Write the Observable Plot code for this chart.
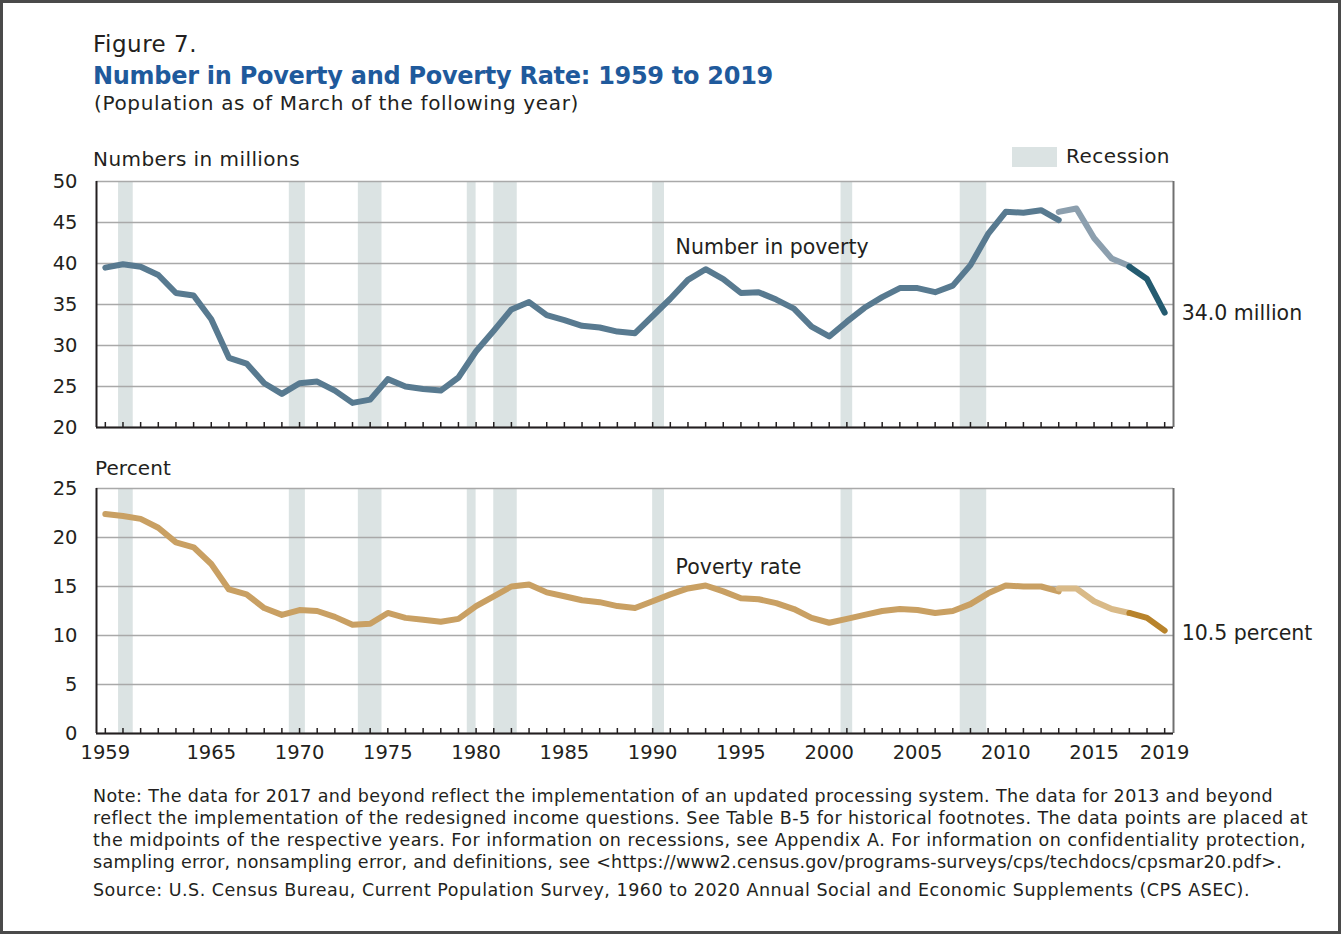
<!DOCTYPE html>
<html><head><meta charset="utf-8">
<script src="https://cdn.jsdelivr.net/npm/d3@7"></script>
<script src="https://cdn.jsdelivr.net/npm/@observablehq/plot@0.6"></script>
<style>
body{margin:0;background:#fff;}
#page{position:relative;width:1341px;height:934px;box-sizing:border-box;border:3px solid #4a4a4a;overflow:hidden;font-family:"DejaVu Sans",sans-serif;color:#231f20;background:#fff;}
.t{position:absolute;white-space:nowrap;line-height:1;margin:0;}
.chart{position:absolute;left:-3px;width:1341px;}
.chart svg{max-width:none !important;}
</style></head><body>
<div id="page">
  <div class="t fit" data-w="104" style="left:90px;top:29.5px;font-size:23px;">Figure 7.</div>
  <div class="t fit" data-w="680" style="left:90px;top:61px;font-size:24px;font-weight:700;color:#1f5a9c;">Number in Poverty and Poverty Rate: 1959 to 2019</div>
  <div class="t fit" data-w="485" style="left:91px;top:90px;font-size:20px;">(Population as of March of the following year)</div>
  <div class="t fit" data-w="207" style="left:90px;top:146px;font-size:20px;">Numbers in millions</div>
  <div style="position:absolute;left:1009px;top:144px;width:45px;height:20px;background:#dbe3e3;"></div>
  <div class="t fit" data-w="104" style="left:1063px;top:143px;font-size:20px;">Recession</div>
  <div class="t fit" data-w="76" style="left:92px;top:455px;font-size:20px;">Percent</div>
  <div id="topChart" class="chart" style="top:154px;"></div>
  <div id="botChart" class="chart" style="top:464px;"></div>
  <div id="notes"></div>
</div>
<script>
// ---- data ----
const years = [1959,1960,1961,1962,1963,1964,1965,1966,1967,1968,1969,1970,1971,1972,1973,1974,1975,1976,1977,1978,1979,1980,1981,1982,1983,1984,1985,1986,1987,1988,1989,1990,1991,1992,1993,1994,1995,1996,1997,1998,1999,2000,2001,2002,2003,2004,2005,2006,2007,2008,2009,2010,2011,2012,2013];
const numberInPoverty = [39.5,39.9,39.6,38.6,36.4,36.1,33.2,28.5,27.8,25.4,24.1,25.4,25.6,24.5,23.0,23.4,25.9,25.0,24.7,24.5,26.1,29.3,31.8,34.4,35.3,33.7,33.1,32.4,32.2,31.7,31.5,33.6,35.7,38.0,39.3,38.1,36.4,36.5,35.6,34.5,32.3,31.1,32.9,34.6,35.9,37.0,37.0,36.5,37.3,39.8,43.6,46.3,46.2,46.5,45.3];
const povertyRate = [22.4,22.2,21.9,21.0,19.5,19.0,17.3,14.7,14.2,12.8,12.1,12.6,12.5,11.9,11.1,11.2,12.3,11.8,11.6,11.4,11.7,13.0,14.0,15.0,15.2,14.4,14.0,13.6,13.4,13.0,12.8,13.5,14.2,14.8,15.1,14.5,13.8,13.7,13.3,12.7,11.8,11.3,11.7,12.1,12.5,12.7,12.6,12.3,12.5,13.2,14.3,15.1,15.0,15.0,14.5];
const yearsRedesign = [2013,2014,2015,2016,2017];
const numberRedesign = [46.3,46.7,43.1,40.6,39.7];
const rateRedesign = [14.8,14.8,13.5,12.7,12.3];
const yearsUpdated = [2017,2018,2019];
const numberUpdated = [39.6,38.1,34.0];
const rateUpdated = [12.3,11.8,10.5];
const recessionStart = [1960.25,1969.92,1973.83,1980.0,1981.5,1990.5,2001.17,2007.92];
const recessionEnd   = [1961.08,1970.83,1975.17,1980.5,1982.83,1991.17,2001.83,2009.42];
const xTickLabels = [1959,1965,1970,1975,1980,1985,1990,1995,2000,2005,2010,2015,2019];
const yTicksNumber = [20,25,30,35,40,45,50];
const yTicksRate = [0,5,10,15,20,25];
const noteLines = [
  "Note: The data for 2017 and beyond reflect the implementation of an updated processing system. The data for 2013 and beyond",
  "reflect the implementation of the redesigned income questions. See Table B-5 for historical footnotes. The data points are placed at",
  "the midpoints of the respective years. For information on recessions, see Appendix A. For information on confidentiality protection,",
  "sampling error, nonsampling error, and definitions, see <https://www2.census.gov/programs-surveys/cps/techdocs/cpsmar20.pdf>."
];
const noteWidths = [1180, 1215, 1213, 1189];
const sourceLine = "Source: U.S. Census Bureau, Current Population Survey, 1960 to 2020 Annual Social and Economic Supplements (CPS ASEC).";
const seriesLabelNumber = [{year: 1991.8, value: 42.0, text: "Number in poverty"}];
const seriesLabelRate = [{year: 1991.8, value: 16.9, text: "Poverty rate"}];

// ---- derived tables ----
const mid = y => y + 0.5;
const tbl = (xs, vs) => xs.map((x, i) => ({x: mid(x), v: vs[i]}));
const numSeg1 = tbl(years, numberInPoverty);
const numSeg2 = tbl(yearsRedesign, numberRedesign);
const numSeg3 = tbl(yearsUpdated, numberUpdated);
const rateSeg1 = tbl(years, povertyRate);
const rateSeg2 = tbl(yearsRedesign, rateRedesign);
const rateSeg3 = tbl(yearsUpdated, rateUpdated);
const recessions = recessionStart.map((s, i) => ({start: s, end: recessionEnd[i]}));
const allYears = years.concat(yearsRedesign.slice(1), yearsUpdated.slice(1));
const tickPos = allYears.map(mid);

const ink = "#231f20";
const font = "DejaVu Sans";

function panel({yTicks, domain, segs, colors, label, endLabel, endDy, height, marginTop, marginBottom, xLabels}) {
  const last = segs[2][segs[2].length - 1];
  const lineOpts = c => ({x: "x", y: "v", stroke: c, strokeWidth: 6, strokeLinejoin: "round", strokeLinecap: "round"});
  const marks = [
    Plot.rect(recessions, {x1: "start", x2: "end", fill: "#dbe3e3"}),
    Plot.gridY(yTicks, {stroke: "#a9a9a9", strokeOpacity: 1, strokeWidth: 1.6}),
    Plot.ruleX([2020], {stroke: "#707070", strokeWidth: 2}),
    Plot.axisY(yTicks, {tickSize: 0, tickPadding: 19, fontSize: 19.5, label: null}),
    Plot.line(segs[0], lineOpts(colors[0])),
    Plot.line(segs[1], lineOpts(colors[1])),
    Plot.line(segs[2], lineOpts(colors[2])),
    Plot.ruleX([1959], {stroke: ink, strokeWidth: 2}),
    Plot.ruleY([domain[0]], {stroke: ink, strokeWidth: 2}),
    Plot.axisX(tickPos, {tickSize: 5, dy: -5, tickFormat: () => "", stroke: ink, strokeWidth: 1.5, label: null}),
    Plot.text(label, {x: "year", y: "value", text: "text", textAnchor: "start", fontSize: 20.5, fill: ink}),
    Plot.text([last], {x: "x", y: "v", text: () => endLabel, textAnchor: "start", dx: 17, dy: endDy, fontSize: 20.5, fill: ink})
  ];
  if (xLabels) marks.push(Plot.axisX(xTickLabels.map(mid), {tickSize: 0, tickPadding: 12, fontSize: 19.5, tickFormat: d => String(Math.floor(d)), label: null}));
  return Plot.plot({
    width: 1341, height, marginLeft: 96, marginRight: 168, marginTop, marginBottom,
    x: {domain: [1959, 2020]},
    y: {domain},
    style: {fontFamily: font, fontSize: "19px", color: ink, background: "transparent", overflow: "visible", maxWidth: "none"},
    marks
  });
}

document.getElementById("topChart").append(panel({
  yTicks: yTicksNumber, domain: [20, 50], segs: [numSeg1, numSeg2, numSeg3],
  colors: ["#587a90", "#8c9fae", "#245b70"], label: seriesLabelNumber, endLabel: "34.0 million", endDy: 1,
  height: 280, marginTop: 24, marginBottom: 10, xLabels: false
}));
document.getElementById("botChart").append(panel({
  yTicks: yTicksRate, domain: [0, 25], segs: [rateSeg1, rateSeg2, rateSeg3],
  colors: ["#c9a063", "#d9ba88", "#b8832b"], label: seriesLabelRate, endLabel: "10.5 percent", endDy: 3,
  height: 300, marginTop: 21, marginBottom: 34, xLabels: true
}));

const notes = document.getElementById("notes");
noteLines.forEach((t, i) => {
  const d = document.createElement("div");
  d.className = "t fit"; d.dataset.w = noteWidths[i];
  d.style.left = "90px"; d.style.top = (785 + 22 * i) + "px"; d.style.fontSize = "17.5px";
  d.textContent = t; notes.append(d);
});
const s = document.createElement("div");
s.className = "t fit"; s.dataset.w = 1157;
s.style.left = "90px"; s.style.top = "879px"; s.style.fontSize = "17.5px";
s.textContent = sourceLine; notes.append(s);

function fitAll() {
  document.querySelectorAll(".fit").forEach(el => {
    el.style.letterSpacing = "0px";
    const w = el.getBoundingClientRect().width;
    const n = el.textContent.length;
    el.style.letterSpacing = ((+el.dataset.w - w) / n) + "px";
  });
}
fitAll();
if (document.fonts && document.fonts.ready) document.fonts.ready.then(fitAll);
</script>
</body></html>
